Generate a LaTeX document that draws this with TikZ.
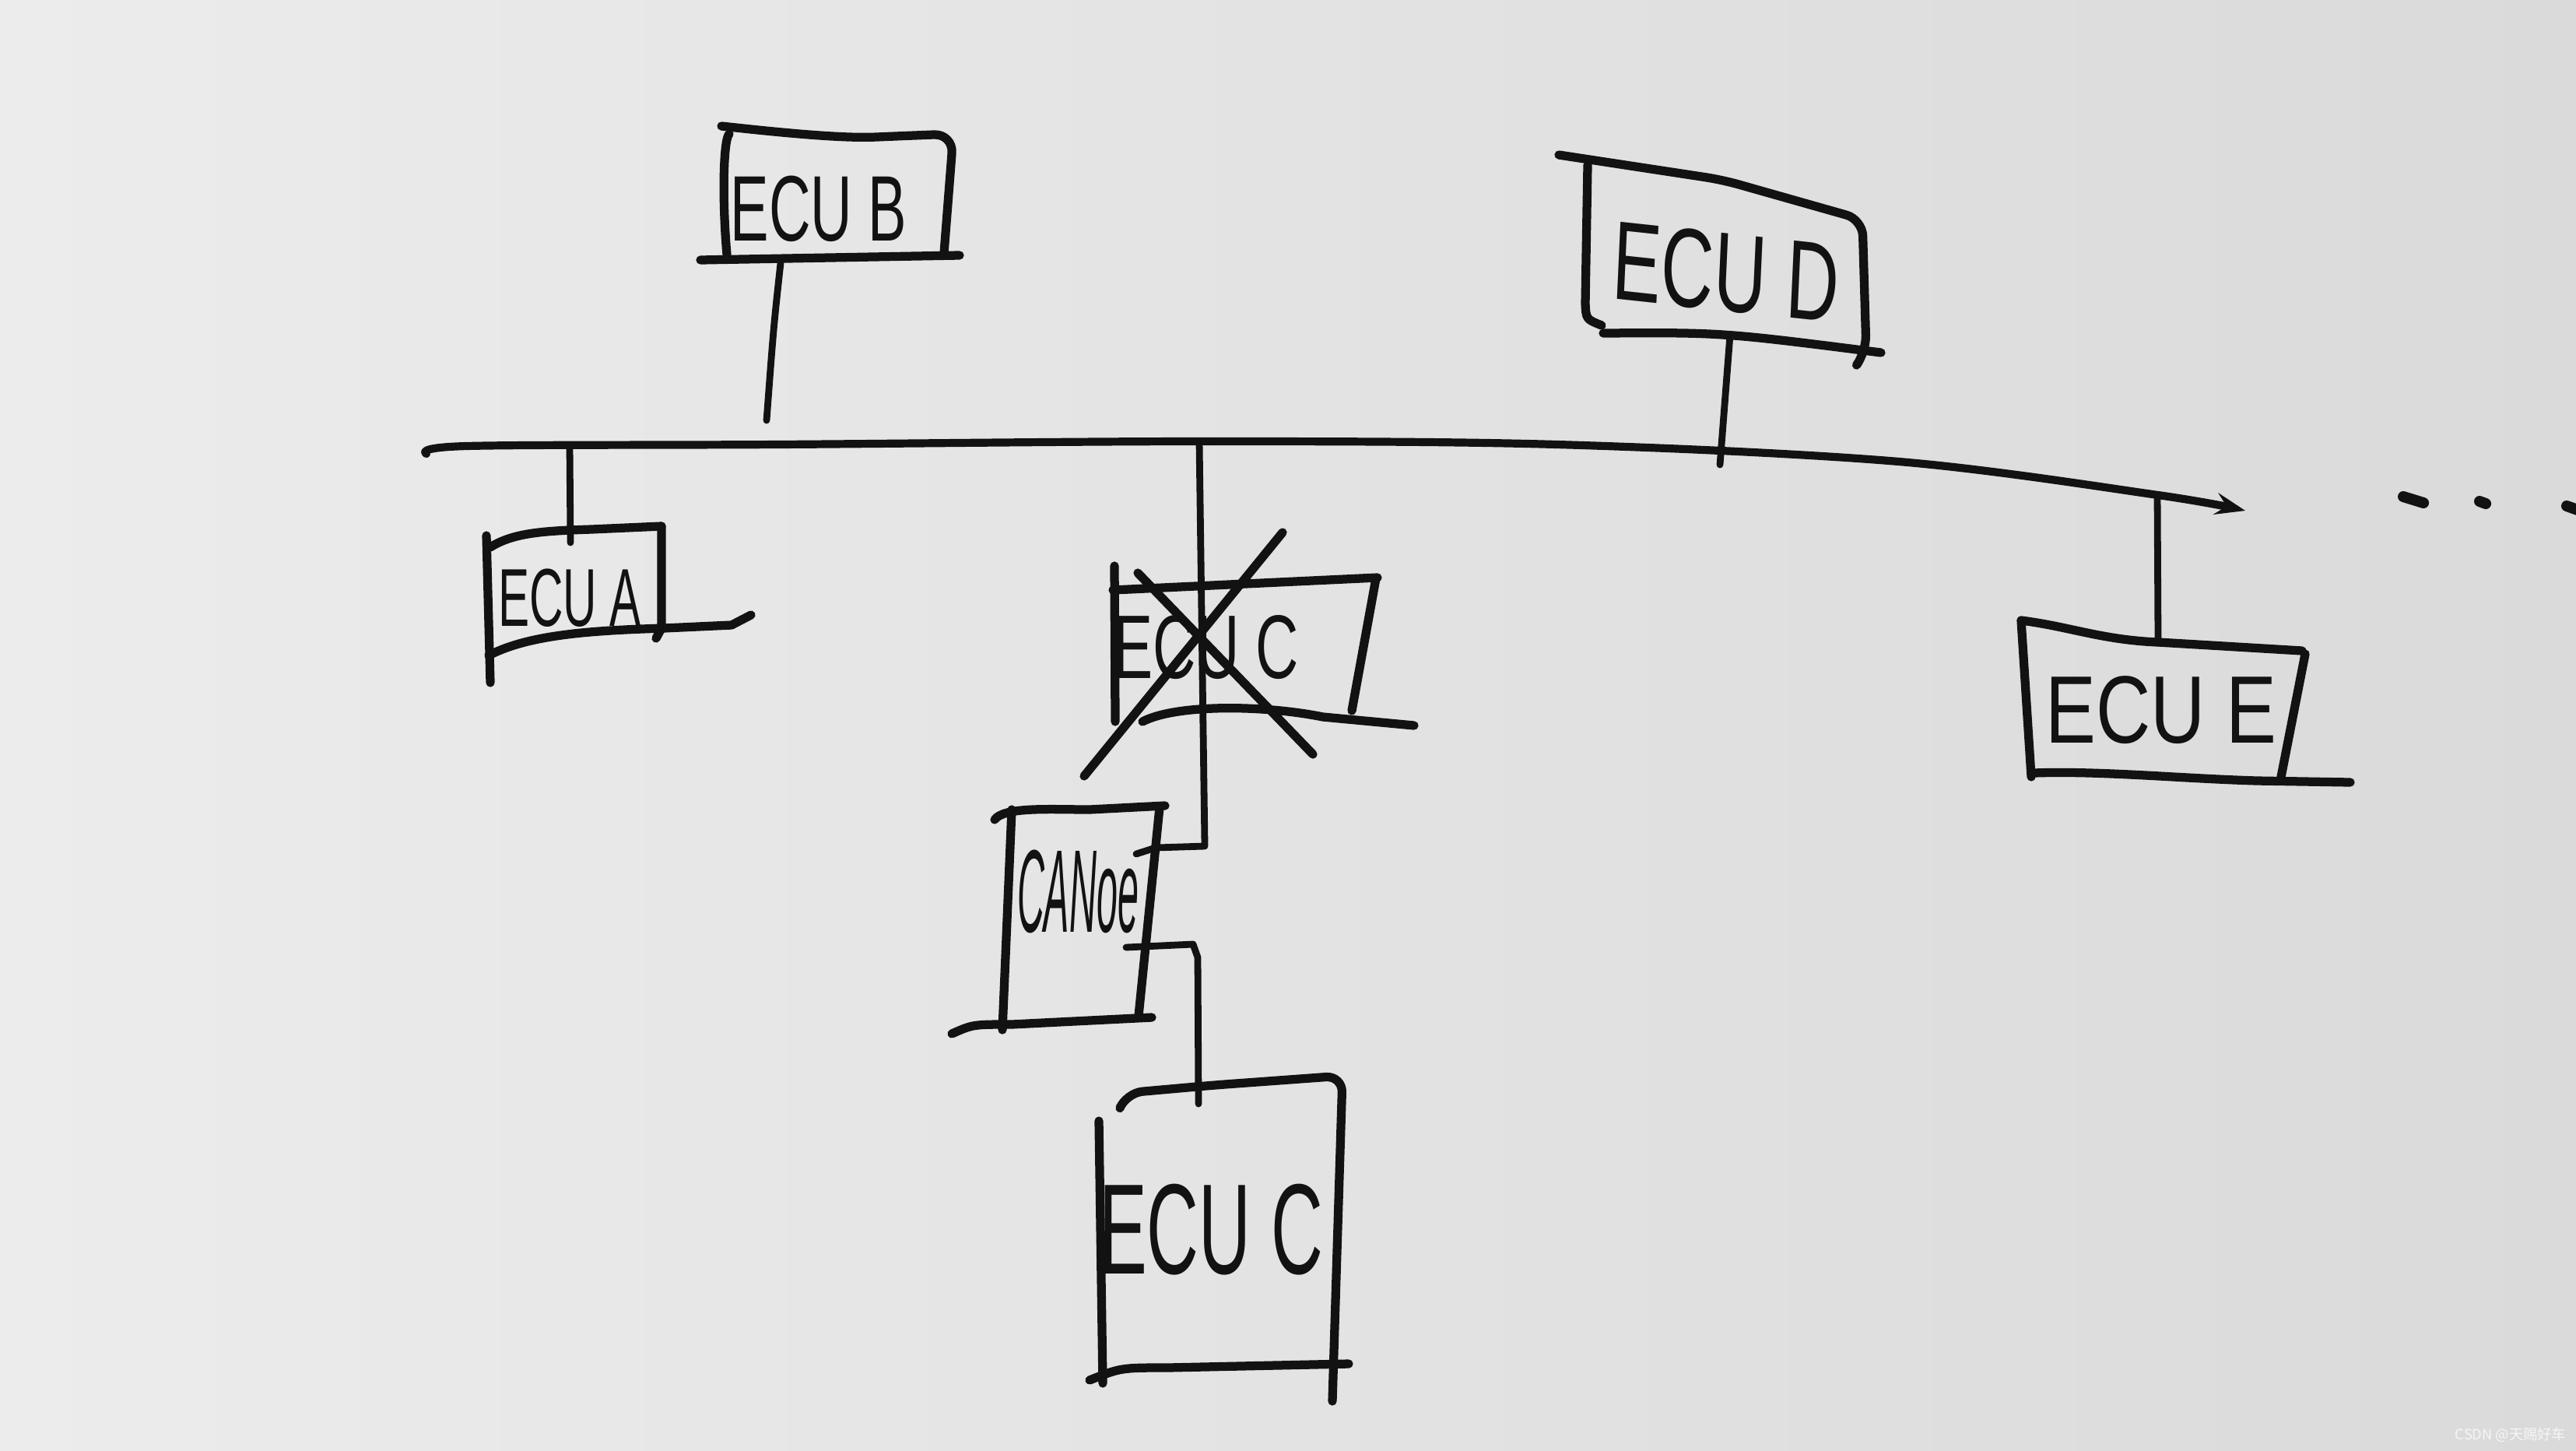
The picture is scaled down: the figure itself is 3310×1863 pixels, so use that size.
\documentclass[tikz,border=0pt]{standalone}
\usepackage{fontspec}
\setmainfont{Liberation Sans}
\newfontfamily\cjkfont{Noto Sans CJK SC}
\usetikzlibrary{arrows.meta}
\definecolor{paperL}{RGB}{236,236,236}
\definecolor{paperR}{RGB}{218,218,218}
\definecolor{ink}{RGB}{18,18,18}
\begin{document}
\begin{tikzpicture}[x=0.01cm,y=-0.01cm,
  pen/.style={draw=ink,line width=3.2pt,line cap=round,line join=round},
  wire/.style={draw=ink,line width=2.5pt,line cap=round,line join=round},
  lbl/.style={inner sep=0pt,text=ink},
  sm/.style={smooth,tension=0.55}]
\useasboundingbox (0,0) rectangle (3310,1863);
\shade[left color=paperL,right color=paperR] (0,0) rectangle (3310,1863);

% ---------- bus ----------
\coordinate (busL) at (548,583);
\coordinate (busE) at (2885,656);
\draw[wire,line width=2.9pt,-{Stealth[length=11pt,width=8pt,inset=4pt]}]
  plot[sm] coordinates {(548,583) (600,573) (1000,571) (1540,567) (2000,571) (2440,593) (2773,636) (2885,656)};
% dots
\draw[pen,line width=4pt] (3088,638) -- (3114,646);
\draw[pen,line width=4pt] (3186,644) -- (3194,647);
\draw[pen,line width=4pt] (3298,650) -- (3312,655);

% ---------- ECU B ----------
\node[lbl,font=\fontsize{34}{34}\selectfont,xscale=0.62] (ecub) at (1052,268) {ECU B};
\draw[pen] (937,172) .. controls (929,180) and (928,260) .. (934,327);
\draw[pen,rounded corners=7pt] (927,162) .. controls (1000,170) and (1080,178) .. (1150,175) -- (1225,172) -- (1213,325);
\draw[pen] (900,334) -- (1233,328);
\coordinate (bT) at (1003,338);
\coordinate (bB) at (985,540);
\draw[wire] (bT) .. controls (994,420) .. (bB);

% ---------- ECU D ----------
\node[lbl,font=\fontsize{41}{41}\selectfont,xscale=0.65,rotate=-4] (ecud) at (2218,350) {ECU D};
\draw[pen,rounded corners=6pt] (2003,199) -- (2213,231) -- (2393,282) -- (2398,452) -- (2387,467);
\draw[pen] (2040,212) -- (2037,390) .. controls (2038,410) .. (2058,418);
\draw[pen] (2060,428) .. controls (2213,427) .. (2417,453);
\coordinate (dT) at (2223,430);
\coordinate (dB) at (2210,597);
\draw[wire] (dT) -- (dB);

% ---------- ECU A ----------
\node[lbl,font=\fontsize{30}{30}\selectfont,xscale=0.57] (ecua) at (732,768) {ECU A};
\draw[pen] (630,703) .. controls (660,684) and (700,682) .. (760,680) -- (850,676);
\draw[pen] (850,676) -- (850,807) -- (843,820);
\draw[pen] (625,688) -- (630,877);
\draw[pen] (628,842) .. controls (680,815) and (760,810) .. (853,807) -- (940,803) -- (965,790);

% ECU A connector
\coordinate (aT) at (732,573);
\coordinate (aB) at (733,697);
\draw[wire] (aT) -- (aB);

% ---------- ECU C (crossed out) ----------
\node[lbl,font=\fontsize{33}{33}\selectfont,xscale=0.66] (ecucx) at (1550,832) {ECU C};
\draw[pen] (1432,727) -- (1433,927);
\draw[pen] (1430,758) -- (1770,742);
\draw[pen] (1768,743) -- (1737,913);
\draw[pen] (1468,927) .. controls (1510,905) and (1620,905) .. (1700,921) -- (1817,932);
\draw[pen] (1462,736) -- (1687,969);
\draw[pen] (1648,684) -- (1393,997);

% ---------- CANoe ----------
\node[lbl,font=\itshape\fontsize{43}{43}\selectfont,xscale=0.32] (canoe) at (1385,1145) {CANoe};
\draw[pen] (1278,1053) .. controls (1290,1036) and (1350,1040) .. (1400,1040) -- (1497,1035);
\draw[pen] (1300,1040) -- (1288,1323);
\draw[pen] (1490,1037) -- (1463,1305);
\draw[pen] (1223,1328) .. controls (1250,1316) .. (1300,1316) -- (1480,1307);

% connector: bus -> CANoe
\coordinate (cBus) at (1541,568);
\coordinate (cIn) at (1460,1097);
\draw[wire] (cBus) -- (1548,1087) -- (1485,1089) -- (cIn);

% connector: CANoe -> ECU C
\coordinate (cOut) at (1447,1217);
\coordinate (cLow) at (1540,1418);
\draw[wire] (cOut) -- (1533,1213) -- (1539,1230) -- (cLow);

% ---------- ECU C (lower) ----------
\node[lbl,font=\fontsize{47}{47}\selectfont,xscale=0.56] (ecuc) at (1556,1580) {ECU C};
\draw[pen,rounded corners=6pt] (1440,1421) -- (1447,1404) -- (1560,1394) -- (1725,1382) -- (1712,1800);
\draw[pen] (1412,1440) -- (1417,1777);
\draw[pen] (1400,1773) .. controls (1440,1757) .. (1500,1757) -- (1733,1752);

% ---------- ECU E ----------
\node[lbl,font=\fontsize{35}{35}\selectfont,xscale=0.79] (ecue) at (2777,912) {ECU E};
\draw[pen] (2597,797) .. controls (2660,805) and (2700,822) .. (2773,825) -- (2958,836);
\draw[pen] (2962,840) -- (2930,1003);
\draw[pen] (2597,797) -- (2610,998);
\draw[pen] (2613,993) .. controls (2700,990) and (2800,1000) .. (2900,1003) -- (3020,1005);
\coordinate (eT) at (2772,638);
\coordinate (eB) at (2773,826);
\draw[wire] (eT) -- (eB);

% ---------- watermark ----------
\node[inner sep=0pt,font=\cjkfont\fontsize{5.2}{5.2}\selectfont,text=white!93!gray] (wm) at (3226,1843) {CSDN @天赐好车};
\end{tikzpicture}
\end{document}
